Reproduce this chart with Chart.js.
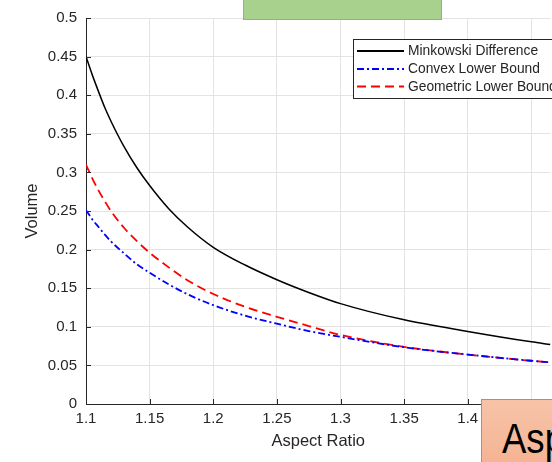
<!DOCTYPE html>
<html>
<head>
<meta charset="utf-8">
<script src="https://cdn.jsdelivr.net/npm/chart.js"></script>
<style>
  html, body { margin: 0; padding: 0; background: #ffffff; overflow: hidden; }
  #wrap { position: relative; width: 552px; height: 462px; }
  #chart { position: absolute; left: 0; top: 0; }
  .green-box {
    position: absolute; left: 243px; top: -2px; width: 197px; height: 20px;
    background: #a9d18e; border: 1px solid #86bd63;
  }
  .orange-box {
    position: absolute; left: 481px; top: 399px; width: 90px; height: 80px;
    background: linear-gradient(#f7c3a8, #f4b08f); border: 1.5px solid #ed7d31;
    box-sizing: border-box; padding: 18px 0 0 20px; white-space: nowrap;
  }
  .orange-box span {
    display: inline-block; font-family: "Liberation Sans", Arial, sans-serif;
    font-size: 42px; line-height: 1; color: #000;
    transform: scaleX(0.87); transform-origin: left top;
  }
</style>
</head>
<body>
<div id="wrap">
  <canvas id="chart" width="552" height="462"></canvas>
  <div class="green-box"></div>
  <div class="orange-box"><span>Asp</span></div>
</div>
<script>
const aspectRatio = [1.1, 1.105, 1.11, 1.115, 1.12, 1.13, 1.14, 1.15, 1.165, 1.18, 1.2, 1.225, 1.25, 1.275, 1.3, 1.35, 1.4, 1.45, 1.465];
const minkowski   = [0.45, 0.426, 0.404, 0.383, 0.365, 0.333, 0.306, 0.283, 0.253, 0.229, 0.203, 0.180, 0.161, 0.1445, 0.130, 0.109, 0.094, 0.0805, 0.077];
const convexLB    = [0.251, 0.239, 0.229, 0.219, 0.210, 0.195, 0.181, 0.170, 0.155, 0.142, 0.128, 0.1145, 0.104, 0.0945, 0.087, 0.0735, 0.064, 0.056, 0.054];
const geometricLB = [0.31, 0.292, 0.276, 0.262, 0.249, 0.228, 0.211, 0.196, 0.177, 0.160, 0.1425, 0.126, 0.113, 0.101, 0.0895, 0.074, 0.064, 0.056, 0.054];
const xTicks = [1.1, 1.15, 1.2, 1.25, 1.3, 1.35, 1.4, 1.45];
const yTicks = [0, 0.05, 0.1, 0.15, 0.2, 0.25, 0.3, 0.35, 0.4, 0.45, 0.5];
const seriesNames = ['Minkowski Difference', 'Convex Lower Bound', 'Geometric Lower Bound'];

const FONT = '"Liberation Sans", Arial, sans-serif';
const AXIS = '#262626';
const GRID = '#e3e3e3';

function pts(ys) {
    return aspectRatio.map((x, i) => ({ x: x, y: ys[i] }));
}

// MATLAB style ticks pointing inside the axes
const innerTicks = {
    id: 'innerTicks',
    afterDatasetsDraw(chart) {
        const ctx = chart.ctx;
        const xs = chart.scales.x, ys = chart.scales.y;
        const area = chart.chartArea;
        ctx.save();
        ctx.strokeStyle = AXIS;
        ctx.lineWidth = 1;
        ctx.beginPath();
        yTicks.forEach(v => {
            const py = Math.round(ys.getPixelForValue(v)) + 0.5;
            ctx.moveTo(area.left, py);
            ctx.lineTo(area.left + 5, py);
        });
        xTicks.forEach(v => {
            const px = Math.round(xs.getPixelForValue(v)) + 0.5;
            ctx.moveTo(px, area.bottom);
            ctx.lineTo(px, area.bottom - 5);
        });
        ctx.stroke();
        ctx.restore();
    }
};

// boxed legend in the top right corner
const boxLegend = {
    id: 'boxLegend',
    afterDraw(chart) {
        const ctx = chart.ctx;
        const x0 = 353.5, y0 = 39.5, w = 240, h = 59;
        ctx.save();
        ctx.fillStyle = '#ffffff';
        ctx.fillRect(x0, y0, w, h);
        ctx.strokeStyle = AXIS;
        ctx.lineWidth = 1;
        ctx.strokeRect(x0, y0, w, h);
        const rows = [51, 69, 86.5];
        chart.data.datasets.forEach((ds, i) => {
            ctx.strokeStyle = ds.borderColor;
            ctx.lineWidth = 2;
            ctx.setLineDash(ds.borderDash || []);
            ctx.beginPath();
            ctx.moveTo(357, rows[i]);
            ctx.lineTo(404, rows[i]);
            ctx.stroke();
            ctx.setLineDash([]);
            ctx.fillStyle = AXIS;
            ctx.font = '13.8px ' + FONT;
            ctx.textBaseline = 'middle';
            ctx.fillText(ds.label, 408, rows[i] + 0.5);
        });
        ctx.restore();
    }
};

new Chart(document.getElementById('chart'), {
    type: 'line',
    data: {
        datasets: [
            { label: seriesNames[0], data: pts(minkowski), borderColor: '#000000', borderWidth: 1.5 },
            { label: seriesNames[1], data: pts(convexLB), borderColor: '#0000ff', borderWidth: 1.8, borderDash: [7, 3, 2, 3] },
            { label: seriesNames[2], data: pts(geometricLB), borderColor: '#ff0000', borderWidth: 1.8, borderDash: [9, 5] }
        ]
    },
    options: {
        responsive: false,
        animation: false,
        layout: { padding: { top: 18, right: 0, bottom: 0, left: 0 } },
        elements: {
            point: { radius: 0 },
            line: { cubicInterpolationMode: 'monotone', fill: false }
        },
        plugins: { legend: { display: false }, tooltip: { enabled: false } },
        scales: {
            x: {
                type: 'linear',
                min: 1.1,
                max: 1.465,
                afterBuildTicks: s => { s.ticks = xTicks.map(v => ({ value: v })); },
                afterFit: s => { s.height = 58; },
                ticks: { color: AXIS, font: { family: FONT, size: 15 }, padding: 6, maxRotation: 0,
                         callback: v => String(v) },
                grid: { color: GRID, drawTicks: false },
                border: { color: AXIS, width: 1 },
                title: { display: true, text: 'Aspect Ratio', color: AXIS,
                         font: { family: FONT, size: 16.5 }, padding: { top: 0, bottom: 11 } }
            },
            y: {
                min: 0,
                max: 0.5,
                afterBuildTicks: s => { s.ticks = yTicks.map(v => ({ value: v })); },
                afterFit: s => { s.width = 86; },
                ticks: { color: AXIS, font: { family: FONT, size: 15 }, padding: 9,
                         callback: v => String(v) },
                grid: { color: GRID, drawTicks: false },
                border: { color: AXIS, width: 1 },
                title: { display: true, text: 'Volume', color: AXIS,
                         font: { family: FONT, size: 16.5 }, padding: { top: 23, bottom: 0 } }
            }
        }
    },
    plugins: [innerTicks, boxLegend]
});
</script>
</body>
</html>
